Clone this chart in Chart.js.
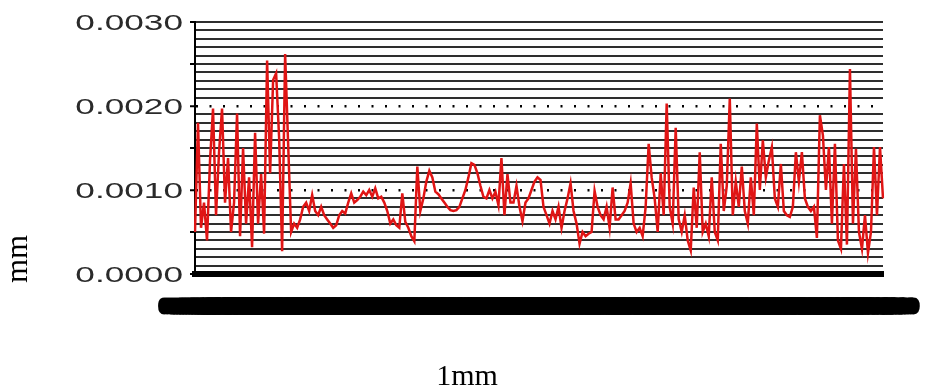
<!DOCTYPE html>
<html>
<head>
<meta charset="utf-8">
<script src="https://cdn.jsdelivr.net/npm/chart.js@4.4.1/dist/chart.umd.min.js"></script>
<style>
  html, body { margin: 0; padding: 0; background: #fff; }
  #wrap { position: relative; width: 925px; height: 387px; }
</style>
</head>
<body>
<div id="wrap"><canvas id="profile"></canvas></div>
<script>
/* surface profile trace in six stretches, left to right */
const stretch1 = [0.00050, 0.00180, 0.00055, 0.00085, 0.00040, 0.00135, 0.00197, 0.00070, 0.00145, 0.00197,
	0.00085, 0.00138, 0.00050, 0.00085, 0.00191, 0.00045, 0.00150, 0.00060, 0.00115, 0.00032,
	0.00168, 0.00060, 0.00119, 0.00048, 0.00254, 0.00120, 0.00231, 0.00239, 0.00162, 0.00027,
	0.00262, 0.00155, 0.00050, 0.00060, 0.00055, 0.00065, 0.00080, 0.00085, 0.00075];
const stretch2 = [0.00094, 0.00075, 0.00070, 0.00080, 0.00070, 0.00065, 0.00060, 0.00055, 0.00058, 0.00070,
	0.00075, 0.00072, 0.00085, 0.00096, 0.00085, 0.00088, 0.00092, 0.00098, 0.00094, 0.00100,
	0.00092, 0.00102, 0.00090, 0.00092, 0.00085, 0.00075, 0.00060, 0.00065, 0.00058, 0.00055,
	0.00096, 0.00062, 0.00055, 0.00045, 0.00039, 0.00128, 0.00075, 0.00090];
const stretch3 = [0.00110, 0.00123, 0.00115, 0.00098, 0.00095, 0.00090, 0.00085, 0.00080, 0.00076, 0.00075,
	0.00076, 0.00080, 0.00090, 0.00100, 0.00115, 0.00132, 0.00130, 0.00120, 0.00105, 0.00092,
	0.00090, 0.00100, 0.00090, 0.00098, 0.00082, 0.00138, 0.00070, 0.00119, 0.00085, 0.00085,
	0.00105, 0.00080, 0.00063, 0.00085, 0.00090, 0.00100, 0.00110, 0.00115, 0.00112];
const stretch4 = [0.00080, 0.00070, 0.00060, 0.00075, 0.00065, 0.00080, 0.00055, 0.00075, 0.00090, 0.00108,
	0.00075, 0.00060, 0.00036, 0.00050, 0.00045, 0.00048, 0.00050, 0.00099, 0.00080, 0.00070,
	0.00065, 0.00080, 0.00055, 0.00103, 0.00065, 0.00065, 0.00070, 0.00075, 0.00085, 0.00108,
	0.00060, 0.00050, 0.00055, 0.00045, 0.00080, 0.00155, 0.00115, 0.00090];
const stretch5 = [0.00050, 0.00120, 0.00070, 0.00203, 0.00080, 0.00060, 0.00174, 0.00065, 0.00050, 0.00070,
	0.00040, 0.00028, 0.00103, 0.00055, 0.00145, 0.00050, 0.00060, 0.00045, 0.00115, 0.00050,
	0.00040, 0.00155, 0.00075, 0.00105, 0.00209, 0.00070, 0.00110, 0.00080, 0.00128, 0.00075,
	0.00060, 0.00115, 0.00070, 0.00179, 0.00100, 0.00159, 0.00115, 0.00135];
const stretch6 = [0.00151, 0.00090, 0.00080, 0.00131, 0.00075, 0.00070, 0.00068, 0.00080, 0.00145, 0.00110,
	0.00145, 0.00090, 0.00080, 0.00075, 0.00080, 0.00043, 0.00189, 0.00165, 0.00100, 0.00151,
	0.00060, 0.00155, 0.00040, 0.00030, 0.00131, 0.00035, 0.00244, 0.00060, 0.00149, 0.00050,
	0.00030, 0.00070, 0.00025, 0.00050, 0.00151, 0.00070, 0.00151, 0.00090];

const heights = [].concat(stretch1, stretch2, stretch3, stretch4, stretch5, stretch6);

// sample positions along the 1 mm trace (these pile up into the black band under the axis)
const positions = heights.map(function (_, i) { return (i / (heights.length - 1)).toFixed(5); });

const yTickValues = [0, 0.001, 0.002, 0.003];
const yTickLabels = ["0.0000", "0.0010", "0.0020", "0.0030"];
const yTitle = "mm";
const xTitle = "1mm";

function tenths(v) { return Math.round(v * 10000); }
function dotted(c) { var t = c.tick ? tenths(c.tick.value) : -1; return t === 10 || t === 20; }

// stretched tick labels and the two serif titles
const labelsPlugin = {
	id: "labels",
	beforeDraw: function (chart) {
		// round joins so the stroked x labels don't grow miter spikes
		chart.ctx.lineJoin = "round";
	},
	afterDraw: function (chart) {
		var ctx = chart.ctx, y = chart.scales.y;
		ctx.save();
		ctx.fillStyle = "#2a2a2a";
		ctx.font = '22px "Liberation Sans", Arial, sans-serif';
		ctx.textAlign = "right";
		ctx.textBaseline = "middle";
		yTickValues.forEach(function (v, i) {
			ctx.save();
			ctx.translate(y.right - 12, y.getPixelForValue(v) + 2);
			ctx.scale(1.6, 1);
			ctx.fillText(yTickLabels[i], 0, 0);
			ctx.restore();
		});
		ctx.fillStyle = "#000";
		ctx.font = '31px "Liberation Serif", "Times New Roman", serif';
		ctx.textAlign = "center";
		ctx.save();
		ctx.translate(19, 259);
		ctx.rotate(-Math.PI / 2);
		ctx.fillText(yTitle, 0, 0);
		ctx.restore();
		ctx.font = '30px "Liberation Serif", "Times New Roman", serif';
		ctx.fillText(xTitle, 467, 377);
		ctx.restore();
	},
};

new Chart(document.getElementById("profile"), {
	type: "line",
	data: {
		labels: positions,
		datasets: [{
			data: heights,
			borderColor: "#e01515",
			borderWidth: 2.5,
			pointRadius: 0,
			tension: 0,
			fill: false,
		}],
	},
	options: {
		responsive: true,
		maintainAspectRatio: false,
		animation: false,
		layout: { padding: { top: 22, right: 42, bottom: 53, left: 0 } },
		plugins: { legend: { display: false }, tooltip: { enabled: false } },
		scales: {
			x: {
				afterFit: function (s) { s.height = 60; },
				grid: { display: false, drawTicks: true, tickLength: 21, tickColor: "rgba(0,0,0,0)" },
				border: { display: true, color: "#000", width: 6 },
				ticks: {
					autoSkip: false,
					maxRotation: 0,
					minRotation: 0,
					padding: 0,
					color: "#000",
					textStrokeColor: "#000",
					textStrokeWidth: 3,
					font: { family: "Liberation Sans", weight: "bold", size: 20 },
				},
			},
			y: {
				min: 0,
				max: 0.003,
				afterFit: function (s) { s.width = 195; },
				border: {
					display: true,
					color: "#000",
					width: 2,
					dash: function (c) { return dotted(c) ? [2, 11.5] : []; },
				},
				grid: {
					color: function (c) { return dotted(c) ? "#000" : "#2e2e2e"; },
					lineWidth: function (c) { return dotted(c) ? 2.5 : 2; },
					tickLength: 5,
					tickWidth: 2,
					tickColor: function (c) { return c.tick && tenths(c.tick.value) % 5 === 0 ? "#000" : "rgba(0,0,0,0)"; },
				},
				ticks: { display: false, stepSize: 0.0001 },
			},
		},
	},
	plugins: [labelsPlugin],
});
</script>
</body>
</html>
